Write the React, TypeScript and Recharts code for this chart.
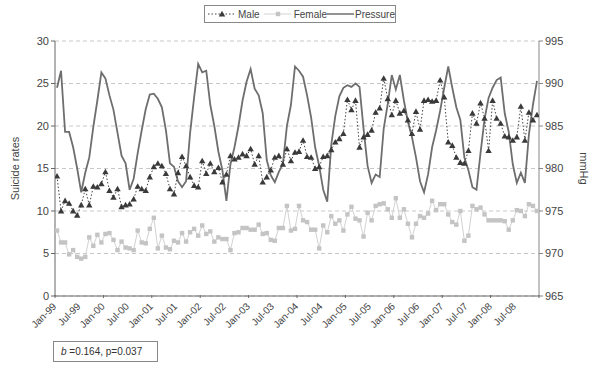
import { CartesianGrid, Line, LineChart, XAxis, YAxis } from "recharts";

// Jan-99 .. Dec-08, monthly
const years = ["99", "00", "01", "02", "03", "04", "05", "06", "07", "08"];
const monthNames = ["Jan", "Feb", "Mar", "Apr", "May", "Jun", "Jul", "Aug", "Sep", "Oct", "Nov", "Dec"];
const months = years.flatMap((y) => monthNames.map((m) => `${m}-${y}`));

const tickLabels = [
  "Jan-99", "Jul-99", "Jan-00", "Jul-00", "Jan-01", "Jul-01", "Jan-02", "Jul-02", "Jan-03", "Jul-03",
  "Jan-04", "Jul-04", "Jan-05", "Jul-05", "Jan-06", "Jul-06", "Jan-07", "Jul-07", "Jan-08", "Jul-08"
];

const leftTicks = [0, 5, 10, 15, 20, 25, 30];
const rightTicks = [965, 970, 975, 980, 985, 990, 995];

const male = [
  14.1, 10.0, 11.2, 10.9, 10.0, 9.5, 10.7, 12.6, 10.7, 12.9, 12.8, 13.2,
  14.6, 12.4, 11.6, 12.6, 10.5, 10.7, 10.8, 11.4, 12.9, 12.6, 12.4, 14.0,
  15.2, 15.6, 15.3, 14.4, 12.6, 12.0, 14.5, 16.4, 15.3, 14.0, 13.0, 12.8,
  15.9, 14.4, 15.6, 14.6, 15.1, 13.4, 14.3, 16.5, 16.1, 16.3, 16.7, 16.5,
  17.3, 15.5, 16.5, 13.4, 14.0, 14.8, 16.3, 16.5, 15.5, 17.3, 15.9, 16.9,
  17.0, 18.3, 16.4, 16.3, 15.0, 15.2, 16.4, 16.5, 17.2, 18.1, 18.5, 19.1,
  23.1, 21.9, 23.0, 17.5, 18.7, 19.0, 19.5, 21.6, 22.1, 25.6, 23.2, 21.3,
  23.0, 21.5, 21.8, 20.7, 19.1, 21.7, 19.6, 23.0, 23.1, 22.9, 23.0, 25.4,
  23.4, 18.1, 17.7, 16.3, 15.7, 15.6, 17.1, 21.5, 20.3, 22.7, 20.9, 17.1,
  23.0, 20.9, 20.3, 18.8, 18.7, 18.3, 18.7, 22.3, 18.3, 21.6, 20.7, 21.3
];

const female = [
  7.7, 6.3, 6.3, 4.9, 5.4, 4.6, 4.4, 4.6, 6.9, 5.9, 7.2, 6.3,
  7.3, 7.4, 6.6, 5.4, 6.4, 5.7, 5.6, 5.4, 7.7, 6.3, 6.2, 7.9,
  9.2, 5.6, 7.1, 5.7, 5.5, 6.5, 6.3, 7.4, 6.4, 7.5, 7.9, 7.1,
  8.3, 7.3, 7.6, 6.4, 6.9, 6.7, 6.7, 5.4, 7.4, 7.5, 8.0, 8.0,
  7.8, 7.8, 8.4, 7.3, 7.4, 6.6, 6.5, 8.0, 8.0, 10.6, 7.7, 7.9,
  10.6, 8.9, 8.7, 7.8, 7.8, 5.6, 8.3, 7.5, 9.4, 8.5, 8.9, 7.7,
  9.6, 10.5, 9.1, 8.9, 7.0, 9.8, 8.9, 10.6, 10.8, 10.9, 10.2, 9.2,
  11.5, 9.2, 10.2, 8.5, 6.9, 8.5, 9.4, 9.2, 9.7, 11.2, 10.1, 10.8,
  10.8, 9.6, 8.7, 8.4, 10.0, 6.5, 7.1, 10.6, 10.2, 10.4, 9.6, 8.9,
  8.9, 8.9, 8.9, 8.8, 7.8, 8.9, 10.1, 10.0, 9.4, 10.8, 10.6, 10.0
];

const pressure = [
  989.5, 991.5, 984.3, 984.3, 982.5, 980.0, 977.2, 979.5, 981.3, 984.9, 988.0, 991.3,
  990.6, 988.6, 986.9, 984.2, 981.5, 980.6, 977.5, 978.8, 981.8, 984.5, 987.0, 988.7,
  988.8, 988.2, 987.2, 984.5, 980.6, 980.2, 978.5, 977.8, 978.5, 984.2, 988.4, 992.3,
  991.3, 991.5, 987.5, 985.0, 982.0, 979.8, 976.2, 980.5, 982.5, 985.0, 988.0, 990.2,
  991.7, 989.4, 988.6, 986.5, 981.0, 979.2, 978.4, 979.6, 980.5, 985.0, 987.5, 992.0,
  991.5, 990.8, 988.6, 986.0, 982.5, 980.3, 977.5, 976.1, 982.8, 986.2, 988.5, 989.5,
  989.8, 989.6, 990.0, 989.6, 984.7, 980.3, 978.3, 979.3, 979.0, 984.7, 987.6, 991.0,
  989.3, 991.0, 988.0, 985.5, 983.7, 981.3, 978.5, 977.2, 979.3, 982.5, 984.5, 986.8,
  989.5, 992.0, 989.5, 987.2, 985.7, 981.3, 979.8, 977.8, 977.5, 981.8, 985.8, 988.3,
  989.5, 990.4, 990.7, 986.5, 984.3, 980.5, 978.3, 979.5, 978.3, 984.0, 987.5, 990.3
];

const chartData = months.map((month, idx) => ({
  idx,
  month,
  male: male[idx],
  female: female[idx],
  pressure: pressure[idx]
}));

// labels sit on category boundaries, every 6 months
const xTicks = [...tickLabels.map((_, k) => k * 6 - 0.5), 119.5];

const FONT = "'Liberation Sans', Arial, sans-serif";

function MonthTick({ x, y, payload }: any) {
  const k = Math.round((payload.value + 0.5) / 6);
  const label = tickLabels[k] ?? "";
  return (
    <g>
      {k % 2 === 0 && <line x1={x} x2={x} y1={y - 3} y2={y} stroke="#666" />}
      {label && (
        <text
          transform={`translate(${x + 2},${y + 9}) rotate(-45)`}
          textAnchor="end"
          fontSize={10}
          fill="#444"
          fontFamily={FONT}
        >
          {label}
        </text>
      )}
    </g>
  );
}

function Triangle({ cx, cy, index }: any) {
  return (
    <path
      key={`m-${index}`}
      d={`M${cx},${cy - 3.2} L${cx + 3.2},${cy + 2.4} L${cx - 3.2},${cy + 2.4} Z`}
      fill="#3a3a3a"
    />
  );
}

function Square({ cx, cy, index }: any) {
  return <rect key={`f-${index}`} x={cx - 2.2} y={cy - 2.2} width={4.4} height={4.4} fill="#c4c4c4" />;
}

export default function App() {
  return (
    <div style={{ position: "relative", width: 600, height: 366, background: "#fff", fontFamily: FONT }}>
      <style>{`body{margin:0}`}</style>

      <LineChart width={600} height={366} data={chartData} margin={{ top: 41, right: 0, bottom: 25, left: 0 }}>
        <CartesianGrid yAxisId="l" vertical={false} stroke="#c8c8c8" strokeDasharray="4 3" />
        <XAxis
          type="number"
          dataKey="idx"
          domain={[-0.5, 119.5]}
          ticks={xTicks}
          interval={0}
          tick={<MonthTick />}
          tickLine={false}
          tickSize={0}
          axisLine={{ stroke: "#666" }}
          height={45}
          allowDataOverflow
        />
        <YAxis
          yAxisId="l"
          domain={[0, 30]}
          ticks={leftTicks}
          width={55}
          axisLine={{ stroke: "#666" }}
          tickLine={{ stroke: "#666" }}
          tickSize={4}
          tick={{ fontSize: 11, fill: "#444", fontFamily: FONT }}
          label={{ value: "Suicide rates", angle: -90, position: "center", dx: -12, fontSize: 11, fill: "#444", fontFamily: FONT }}
        />
        <YAxis
          yAxisId="r"
          orientation="right"
          domain={[965, 995]}
          ticks={rightTicks}
          width={61}
          axisLine={{ stroke: "#888" }}
          tickLine={{ stroke: "#888" }}
          tickSize={4}
          tick={{ fontSize: 11, fill: "#444", fontFamily: FONT }}
          label={{ value: "mmHg", angle: 90, position: "center", dx: 14, fontSize: 11, fill: "#444", fontFamily: FONT }}
        />
        <Line
          yAxisId="l"
          dataKey="female"
          stroke="#d2d2d2"
          strokeWidth={1}
          dot={<Square />}
          activeDot={false}
          isAnimationActive={false}
        />
        <Line
          yAxisId="r"
          dataKey="pressure"
          stroke="#6e6e6e"
          strokeWidth={1.8}
          dot={false}
          activeDot={false}
          isAnimationActive={false}
        />
        <Line
          yAxisId="l"
          dataKey="male"
          stroke="#444"
          strokeWidth={1}
          strokeDasharray="1.5 2"
          dot={<Triangle />}
          activeDot={false}
          isAnimationActive={false}
        />
      </LineChart>

      <div
        style={{
          position: "absolute",
          left: 204,
          top: 5,
          width: 192,
          height: 18,
          border: "1px solid #888",
          boxSizing: "border-box",
          display: "flex",
          alignItems: "center",
          fontSize: 10,
          color: "#444",
          whiteSpace: "nowrap"
        }}
      >
        <svg width={28} height={10} style={{ marginLeft: 3 }}>
          <line x1={0} x2={28} y1={5} y2={5} stroke="#444" strokeDasharray="1.5 2" />
          <path d="M14,1.8 L17.2,7.4 L10.8,7.4 Z" fill="#3a3a3a" />
        </svg>
        <span style={{ marginLeft: 3 }}>Male</span>
        <svg width={28} height={10} style={{ marginLeft: 4 }}>
          <line x1={0} x2={28} y1={5} y2={5} stroke="#d2d2d2" />
          <rect x={11.8} y={2.8} width={4.4} height={4.4} fill="#c4c4c4" />
        </svg>
        <span style={{ marginLeft: 3 }}>Female</span>
        <svg width={28} height={10}>
          <line x1={0} x2={28} y1={5} y2={5} stroke="#6e6e6e" strokeWidth={1.5} />
        </svg>
        <span style={{ marginLeft: 1 }}>Pressure</span>
      </div>

      <div
        style={{
          position: "absolute",
          left: 53,
          top: 341,
          width: 105,
          height: 21,
          border: "1px solid #888",
          boxSizing: "border-box",
          fontSize: 10,
          color: "#333",
          lineHeight: "19px",
          paddingLeft: 7,
          whiteSpace: "nowrap"
        }}
      >
        <i>b</i> =0.164, p=0.037
      </div>
    </div>
  );
}
